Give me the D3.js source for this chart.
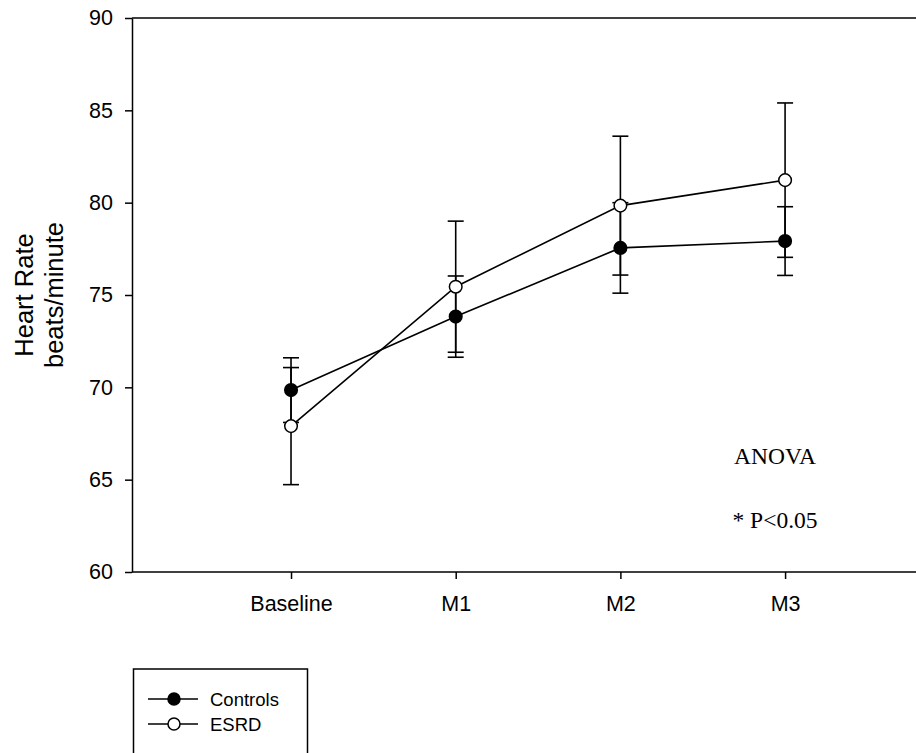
<!DOCTYPE html>
<html><head><meta charset="utf-8">
<script src="https://cdn.jsdelivr.net/npm/d3@7"></script>
<style>body{margin:0;background:#fff}svg{display:block}</style>
</head><body>
<script>
const categories = ["Baseline", "M1", "M2", "M3"];
const controlsMean = [69.85, 73.83, 77.55, 77.92];
const controlsErr = [1.75, 2.2, 2.45, 1.86];
const esrdMean = [67.9, 75.45, 79.84, 81.22];
const esrdErr = [3.17, 3.55, 3.76, 4.18];
const yTicks = [60, 65, 70, 75, 80, 85, 90];
const seriesNames = ["Controls", "ESRD"];

const W = 916, H = 753;
const SANS = "Liberation Sans, Arial, sans-serif";
const SERIF = "Liberation Serif, DejaVu Serif, serif";
const svg = d3.select("body").append("svg").attr("width", W).attr("height", H);

const y = d3.scaleLinear().domain([60, 90]).range([572, 18]);
const x = d3.scaleLinear().domain([-0.9656, 3.795]).range([132, 916]);

// frame: top line
svg.append("line").attr("x1", x.range()[0]).attr("x2", W + 5)
  .attr("y1", y(90)).attr("y2", y(90)).attr("stroke", "#000").attr("stroke-width", 1.5);

const yAxis = svg.append("g").attr("transform", `translate(${x.range()[0]},0)`)
  .call(d3.axisLeft(y).tickValues(yTicks).tickSize(7).tickSizeOuter(0).tickPadding(12));
const xAxis = svg.append("g").attr("transform", `translate(0,${y(60)})`)
  .call(d3.axisBottom(x).tickValues(d3.range(categories.length)).tickFormat(i => categories[i])
    .tickSize(7).tickSizeOuter(0).tickPadding(17));
[yAxis, xAxis].forEach(g => {
  g.attr("font-size", null).attr("font-family", null);
  g.selectAll("path,line").attr("stroke", "#000").attr("stroke-width", 1.5);
  g.selectAll("text").attr("font-family", SANS).attr("font-size", 21.5).attr("fill", "#000");
});
xAxis.select(".domain").attr("d", `M${x.range()[0]},0H${W + 5}`);

// y label
const yl = svg.append("text").attr("transform", "rotate(-90)")
  .attr("font-family", SANS).attr("font-size", 25.5).attr("text-anchor", "middle");
yl.append("tspan").attr("x", -295).attr("y", 33).text("Heart Rate");
yl.append("tspan").attr("x", -295).attr("y", 63).text("beats/minute");

const series = [
  {name: seriesNames[0], mean: controlsMean, err: controlsErr, fill: "#000"},
  {name: seriesNames[1], mean: esrdMean, err: esrdErr, fill: "#fff"}
];

const line = d3.line().x((d, i) => x(i)).y(d => y(d));
// error bars first
series.forEach(s => {
  const g = svg.append("g").attr("stroke", "#000").attr("stroke-width", 1.6);
  s.mean.forEach((m, i) => {
    const cx = x(i);
    g.append("line").attr("x1", cx).attr("x2", cx).attr("y1", y(m - s.err[i])).attr("y2", y(m + s.err[i]));
    [m - s.err[i], m + s.err[i]].forEach(v => {
      g.append("line").attr("x1", cx - 8).attr("x2", cx + 8).attr("y1", y(v)).attr("y2", y(v));
    });
  });
});
series.forEach(s => {
  svg.append("path").attr("d", line(s.mean)).attr("fill", "none").attr("stroke", "#000").attr("stroke-width", 1.6);
});
series.forEach(s => {
  svg.append("g").selectAll("circle").data(s.mean).join("circle")
    .attr("cx", (d, i) => x(i)).attr("cy", d => y(d)).attr("r", 6.3)
    .attr("fill", s.fill).attr("stroke", "#000").attr("stroke-width", 1.5);
});

// annotation
svg.append("text").attr("x", 775).attr("y", 464).attr("text-anchor", "middle")
  .attr("font-family", SERIF).attr("font-size", 23.5).text("ANOVA");
svg.append("text").attr("x", 775).attr("y", 528).attr("text-anchor", "middle")
  .attr("font-family", SERIF).attr("font-size", 23.5).text("* P<0.05");

// legend
const lg = svg.append("g");
lg.append("rect").attr("x", 133.5).attr("y", 669).attr("width", 174).attr("height", 100)
  .attr("fill", "none").attr("stroke", "#000").attr("stroke-width", 1.5);
series.forEach((s, i) => {
  const ly = 699 + i * 25;
  lg.append("line").attr("x1", 148).attr("x2", 198).attr("y1", ly).attr("y2", ly).attr("stroke", "#000").attr("stroke-width", 1.6);
  lg.append("circle").attr("cx", 174).attr("cy", ly).attr("r", 6).attr("fill", s.fill).attr("stroke", "#000").attr("stroke-width", 1.5);
  lg.append("text").attr("x", 210).attr("y", ly + 7).attr("font-family", SANS)
    .attr("font-size", 18.5).text(s.name);
});
</script>
</body></html>
